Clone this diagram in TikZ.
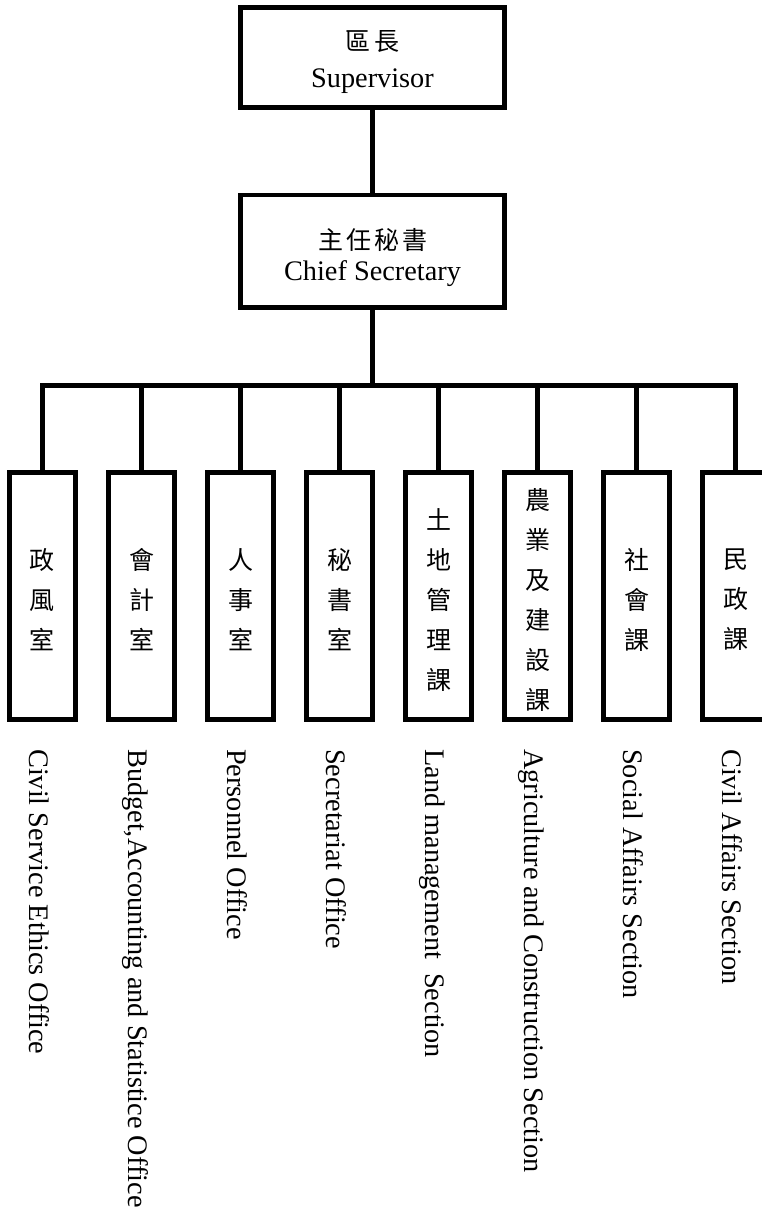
\documentclass[tikz,border=0pt]{standalone}
\usepackage{fontspec}
\setmainfont{Liberation Serif}
\newfontfamily\cjk{Noto Sans CJK TC}
\begin{document}
\begin{tikzpicture}[x=1pt,y=-1pt,
  conn/.style={line width=4.6pt},
  headbox/.style={draw,line width=4.6pt,minimum width=264pt,minimum height=100pt,inner sep=0pt},
  deptbox/.style={draw,line width=4.6pt,minimum width=66pt,minimum height=247pt,inner sep=0pt},
  cjktext/.style={inner sep=0pt,font=\cjk\fontsize{25}{40}\selectfont,align=center},
  entext/.style={inner sep=0pt,font=\fontsize{28.3}{34}\selectfont},
  vlabel/.style={inner sep=0pt,font=\fontsize{28.3}{34}\selectfont,rotate=-90,anchor=base west}]
\useasboundingbox (0,0) rectangle (762,1211);
% head boxes
\node[headbox] (sup) at (372.5,57.5) {};
\node[cjktext] (supzh) at (372.5,42) {區\hspace{4pt}長};
\node[entext,anchor=base] (supen) at (372.5,87) {Supervisor};
\node[headbox,minimum height=112.5pt] (chief) at (372.5,251.25) {};
\node[cjktext] (chiefzh) at (372.5,240) {主\hspace{3pt}任\hspace{3pt}秘\hspace{3pt}書};
\node[entext,anchor=base] (chiefen) at (372.5,280) {Chief Secretary};
% department boxes
\foreach \i/\cx/\zh/\en in {
  1/42.5/{政\\風\\室}/{Civil Service Ethics Office},
  2/141.5/{會\\計\\室}/{Budget,Accounting and Statistice Office},
  3/240.5/{人\\事\\室}/{Personnel Office},
  4/339.5/{秘\\書\\室}/{Secretariat Office},
  5/438.5/{土\\地\\管\\理\\課}/{Land management\ \ Section},
  6/537.5/{農\\業\\及\\建\\設\\課}/{Agriculture and Construction Section},
  7/636.5/{社\\會\\課}/{Social Affairs Section},
  8/735.5/{民\\政\\課}/{Civil Affairs Section}}{
  \node[deptbox] (d\i) at (\cx,596) {};
  \node[cjktext] (z\i) at (\cx,600) {\zh};
  \node[vlabel] (e\i) at (\cx-13,749) {\en};
}
% connectors
\coordinate (bus) at (372.5,385.5);
\draw[conn] (sup.south) -- (chief.north);
\draw[conn] (chief.south) -- (bus);
\draw[conn] (d1.north) |- (d8.north |- bus) -- (d8.north);
\foreach \i in {2,...,7}{
  \draw[conn] (d\i.north) -- (d\i.north |- bus);
}
\end{tikzpicture}
\end{document}
